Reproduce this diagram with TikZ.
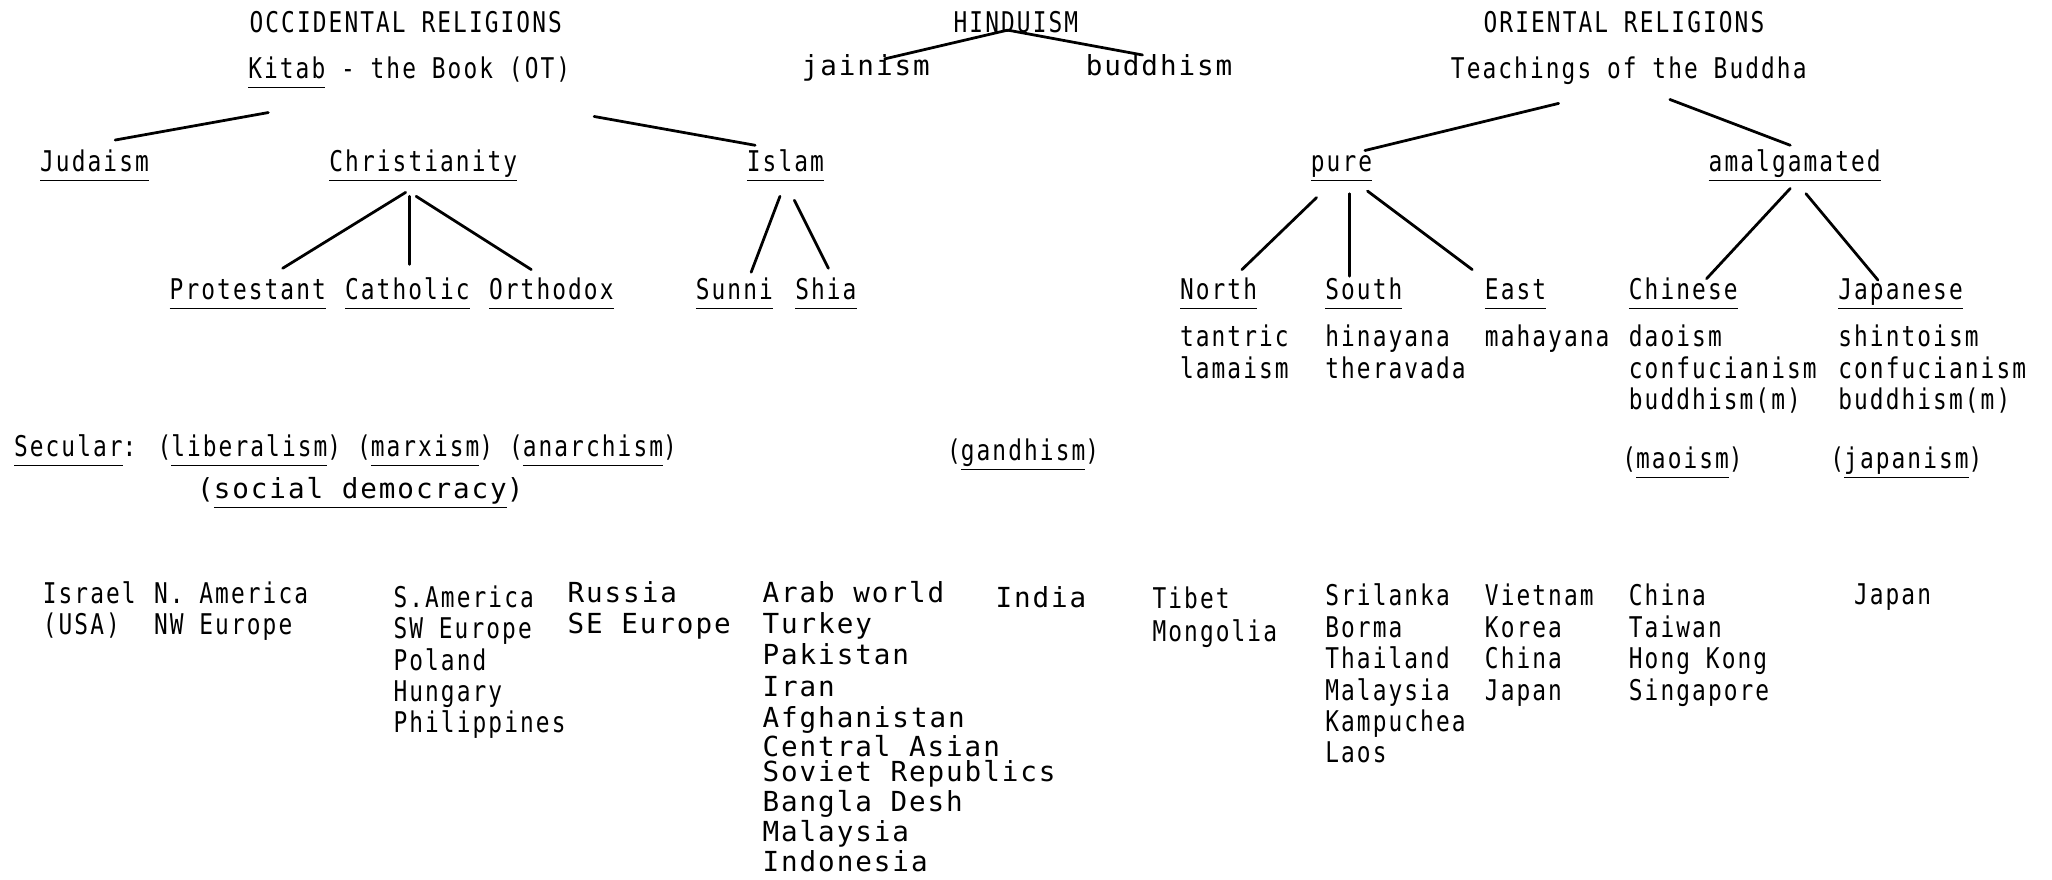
\documentclass[tikz,border=0pt]{standalone}
\usepackage{fontspec}
\usepackage{tikz}
\newfontfamily\typafam[FakeStretch=0.8,LetterSpace=7.3]{DejaVu Sans Mono}
\newfontfamily\typbfam[LetterSpace=7]{DejaVu Sans Mono}
\newcommand\typa{\typafam\fontsize{6.2pt}{6.8pt}\selectfont}
\newcommand\typb{\typbfam\fontsize{6pt}{6.8pt}\selectfont}
\newcommand\ulr[1]{\setbox0\hbox{#1}\rlap{\rule[-2.1pt]{\wd0}{0.35pt}}\box0}
\begin{document}
\begin{tikzpicture}[line cap=round,line join=round,x=0.01cm,y=-0.01cm,
	lbl/.style={anchor=base west,inner sep=0pt,font=\typa},
	lblb/.style={anchor=base west,inner sep=0pt,font=\typb},
	link/.style={line width=0.6pt}]
			\useasboundingbox (0,0) rectangle (1568,672);
			\node[lbl] (occ) at (190,25) {OCCIDENTAL RELIGIONS};
			\node[lbl] (hind) at (728,25) {HINDUISM};
			\node[lbl] (orie) at (1133,25) {ORIENTAL RELIGIONS};
			\node[lbl] (kitab) at (189,60) {\ulr{Kitab}\ - the Book (OT)};
			\node[lblb] (jain) at (612,58) {jainism};
			\node[lblb] (budd) at (829,58) {buddhism};
			\node[lbl] (teach) at (1108,60) {Teachings of the Buddha};
			\node[lbl] (juda) at (30,131) {\ulr{Judaism}};
			\node[lbl] (chri) at (251,131) {\ulr{Christianity}};
			\node[lbl] (isla) at (570,131) {\ulr{Islam}};
			\node[lbl] (pure) at (1001,131) {\ulr{pure}};
			\node[lbl] (amal) at (1305,131) {\ulr{amalgamated}};
			\node[lbl] (prot) at (129,229) {\ulr{Protestant}};
			\node[lbl] (cath) at (263,229) {\ulr{Catholic}};
			\node[lbl] (orth) at (373,229) {\ulr{Orthodox}};
			\node[lbl] (sunn) at (531,229) {\ulr{Sunni}};
			\node[lbl] (shia) at (607,229) {\ulr{Shia}};
			\node[lbl] (nort) at (901,229) {\ulr{North}};
			\node[lbl] (sout) at (1012,229) {\ulr{South}};
			\node[lbl] (east) at (1134,229) {\ulr{East}};
			\node[lbl] (chin) at (1244,229) {\ulr{Chinese}};
			\node[lbl] (japa) at (1404,229) {\ulr{Japanese}};
			\node[lbl] (tant) at (901,265) {tantric};
			\node[lbl] (lama) at (901,289) {lamaism};
			\node[lbl] (hina) at (1012,265) {hinayana};
			\node[lbl] (ther) at (1012,289) {theravada};
			\node[lbl] (maha) at (1134,265) {mahayana};
			\node[lbl] (daoi) at (1244,265) {daoism};
			\node[lbl] (conc) at (1244,289) {confucianism};
			\node[lbl] (budc) at (1244,313) {buddhism(m)};
			\node[lbl] (shin) at (1404,265) {shintoism};
			\node[lbl] (conj) at (1404,289) {confucianism};
			\node[lbl] (budj) at (1404,313) {buddhism(m)};
			\node[lbl] (secu) at (10,349) {\ulr{Secular}: (\ulr{liberalism}) (\ulr{marxism}) (\ulr{anarchism})};
			\node[lblb] (socd) at (150,381) {(\ulr{social democracy})};
			\node[lbl] (gand) at (723,352) {(\ulr{gandhism})};
			\node[lbl] (maoi) at (1239,358) {(\ulr{maoism})};
			\node[lbl] (japi) at (1398,358) {(\ulr{japanism})};
			\node[lbl] (isr) at (32,461) {Israel};
			\node[lbl] (usa) at (32,485) {(USA)};
			\node[lbl] (nam) at (117,461) {N. America};
			\node[lbl] (nwe) at (117,485) {NW Europe};
			\node[lbl] (sam) at (300,464) {S.America};
			\node[lbl] (swe) at (300,488) {SW Europe};
			\node[lbl] (pol) at (300,512) {Poland};
			\node[lbl] (hun) at (300,536) {Hungary};
			\node[lbl] (phi) at (300,560) {Philippines};
			\node[lblb] (rus) at (433,460) {Russia};
			\node[lblb] (see) at (433,484) {SE Europe};
			\node[lblb] (arw) at (582,460) {Arab world};
			\node[lblb] (tur) at (582,484) {Turkey};
			\node[lblb] (pak) at (582,508) {Pakistan};
			\node[lblb] (ira) at (582,532) {Iran};
			\node[lblb] (afg) at (582,556) {Afghanistan};
			\node[lblb] (cas) at (582,578) {Central Asian};
			\node[lblb] (svr) at (582,597) {Soviet Republics};
			\node[lblb] (ban) at (582,620) {Bangla Desh};
			\node[lblb] (mal) at (582,643) {Malaysia};
			\node[lblb] (ind) at (582,666) {Indonesia};
			\node[lblb] (inda) at (760,464) {India};
			\node[lbl] (tib) at (880,465) {Tibet};
			\node[lbl] (mon) at (880,490) {Mongolia};
			\node[lbl] (sri) at (1012,463) {Srilanka};
			\node[lbl] (bor) at (1012,487) {Borma};
			\node[lbl] (tha) at (1012,511) {Thailand};
			\node[lbl] (mals) at (1012,535) {Malaysia};
			\node[lbl] (kam) at (1012,559) {Kampuchea};
			\node[lbl] (lao) at (1012,583) {Laos};
			\node[lbl] (vie) at (1134,463) {Vietnam};
			\node[lbl] (kor) at (1134,487) {Korea};
			\node[lbl] (chn) at (1134,511) {China};
			\node[lbl] (jpn) at (1134,535) {Japan};
			\node[lbl] (chi) at (1244,463) {China};
			\node[lbl] (tai) at (1244,487) {Taiwan};
			\node[lbl] (hko) at (1244,511) {Hong Kong};
			\node[lbl] (sin) at (1244,535) {Singapore};
			\node[lbl] (jap) at (1416,462) {Japan};
			\coordinate (kitab-l) at (205,86);
			\coordinate (juda-t) at (88,107);
			\coordinate (kitab-r) at (454,89);
			\coordinate (isla-t) at (577,111);
			\coordinate (hind-b) at (770,23);
			\coordinate (jain-t) at (676,45);
			\coordinate (budd-t) at (873,42);
			\coordinate (chri-l) at (310,147);
			\coordinate (chri-m) at (313,150);
			\coordinate (chri-r) at (318,150);
			\coordinate (prot-t) at (216,205);
			\coordinate (cath-t) at (313,202);
			\coordinate (orth-t) at (406,206);
			\coordinate (isla-l) at (596,150);
			\coordinate (isla-r) at (607,153);
			\coordinate (sunn-t) at (574,208);
			\coordinate (shia-t) at (633,205);
			\coordinate (teach-l) at (1191,79);
			\coordinate (teach-r) at (1276,76);
			\coordinate (pure-t) at (1043,115);
			\coordinate (amal-t) at (1368,111);
			\coordinate (pure-l) at (1006,151);
			\coordinate (pure-m) at (1031,148);
			\coordinate (pure-r) at (1045,146);
			\coordinate (nort-t) at (949,206);
			\coordinate (sout-t) at (1031,211);
			\coordinate (east-t) at (1125,206);
			\coordinate (amal-l) at (1368,144);
			\coordinate (amal-r) at (1380,148);
			\coordinate (chin-t) at (1304,213);
			\coordinate (japa-t) at (1435,214);
			\draw [link] (kitab-l)-- (juda-t);
			\draw [link] (kitab-r)-- (isla-t);
			\draw [link] (hind-b)-- (jain-t);
			\draw [link] (hind-b)-- (budd-t);
			\draw [link] (chri-l)-- (prot-t);
			\draw [link] (chri-m)-- (cath-t);
			\draw [link] (chri-r)-- (orth-t);
			\draw [link] (isla-l)-- (sunn-t);
			\draw [link] (isla-r)-- (shia-t);
			\draw [link] (teach-l)-- (pure-t);
			\draw [link] (teach-r)-- (amal-t);
			\draw [link] (pure-l)-- (nort-t);
			\draw [link] (pure-m)-- (sout-t);
			\draw [link] (pure-r)-- (east-t);
			\draw [link] (amal-l)-- (chin-t);
			\draw [link] (amal-r)-- (japa-t);
		\end{tikzpicture}
\end{document}
